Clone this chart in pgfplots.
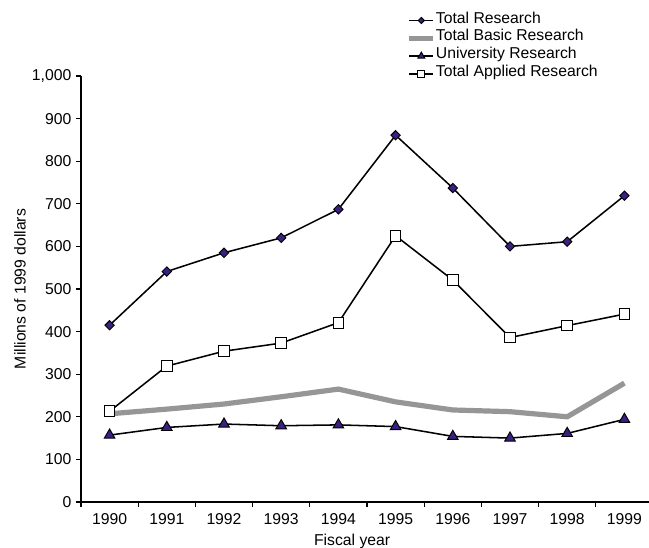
\documentclass[border=0pt]{standalone}
\usepackage{pgfplots}
\pgfplotsset{compat=1.18}
\usepackage{fontspec}
\setmainfont{Liberation Sans}
\definecolor{mk}{RGB}{58,32,128}
\definecolor{basic}{RGB}{150,150,150}
\begin{document}
\begin{tikzpicture}
\begin{axis}[
  at={(0,0)}, anchor=south west,
  scale only axis, width=429pt, height=319.5pt,
  xmin=-0.5, xmax=9.5, ymin=0, ymax=1000,
  axis x line=bottom, axis y line=left,
  axis line style={-, line width=0.8pt},
  xtick={0,...,9},
  xticklabels={1990,1991,1992,1993,1994,1995,1996,1997,1998,1999},
  major x tick style={draw=none},
  minor xtick={-0.5,0.5,...,9.5},
  minor tick length=3.75pt,
  minor x tick style={line width=0.8pt, black},
  ytick={0,100,...,1000},
  major tick length=3.75pt,
  tick align=outside,
  y tick style={line width=0.8pt, black},
  tick label style={font=\fontsize{11.8}{13}\selectfont},
  /pgf/number format/assume math mode=true,
  /pgf/number format/1000 sep={,},
  scaled y ticks=false,
  xticklabel style={yshift=-1pt},
  label style={font=\fontsize{11.8}{13}\selectfont},
  xlabel={Fiscal year},
  xlabel style={at={(axis description cs:0.474,-0.0933)}, anchor=center},
  ylabel={Millions of 1999 dollars},
  ylabel style={at={(axis description cs:-0.1066,0.5)}, anchor=center},
  clip=false,
  legend cell align=left,
  legend style={draw=none, fill=none, at={(axis description cs:0.562,1.158)}, anchor=north west,
    font=\fontsize{11.8}{13}\selectfont,
    nodes={inner sep=0pt, text height=8.6pt, text depth=4.75pt},
    /tikz/every even column/.append style={column sep=9pt},
    row sep=0pt},
  legend image code/.code={\draw[mark repeat=2,mark phase=2,#1,every mark/.append style={scale=0.65}] plot coordinates {(0pt,0pt) (9pt,0pt) (18pt,0pt)};},
]
\addplot[black, line width=1.15pt, mark=diamond*, mark size=3.5pt,
  mark options={fill=mk, draw=black, line width=0.7pt, xscale=1.33}]
  coordinates {(0,415) (1,541) (2,585) (3,620) (4,687) (5,861) (6,737) (7,600) (8,611) (9,719)};
\addlegendentry{Total Research}
\addplot[basic, line width=3.9pt, no marks]
  coordinates {(0,207) (1,218) (2,230) (3,247) (4,265) (5,235) (6,216) (7,212) (8,200) (9,279)};
\addlegendentry{Total Basic Research}
\addplot[black, line width=1.15pt, mark=triangle*, mark size=4.6pt,
  mark options={fill=mk, draw=black, line width=0.7pt}]
  coordinates {(0,157) (1,175) (2,183) (3,179) (4,181) (5,177) (6,154) (7,150) (8,161) (9,194)};
\addlegendentry{University Research}
\addplot[black, line width=1.15pt, mark=square*, mark size=4pt,
  mark options={fill=white, draw=black, line width=0.7pt}]
  coordinates {(0,213) (1,319) (2,354) (3,373) (4,421) (5,625) (6,521) (7,386) (8,414) (9,441)};
\addlegendentry{Total Applied Research}
\end{axis}
\pgfresetboundingbox
\path (-60.75pt,-34.5pt) rectangle (426pt,376.5pt);
\end{tikzpicture}
\end{document}
